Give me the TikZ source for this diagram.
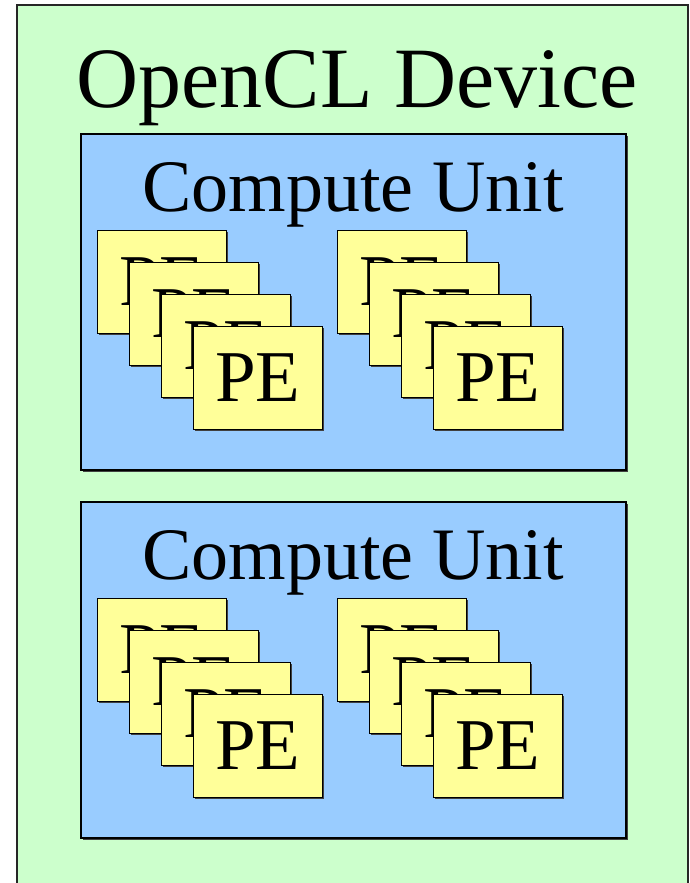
\documentclass[tikz,border=0pt]{standalone}
\usepackage{fontspec}
\setmainfont{Liberation Serif}
\definecolor{devgreen}{HTML}{CCFFCC}
\definecolor{cublue}{HTML}{99CCFF}
\definecolor{peyellow}{HTML}{FFFF99}
\begin{document}
\begin{tikzpicture}[x=1pt,y=-1pt,
  dev/.style={draw=black!85, line width=1.5pt, fill=devgreen},
  cu/.style={draw=black, line width=1.1pt, fill=cublue},
  shad/.style={fill=black!75},
  pebox/.style={draw=black, line width=1pt, fill=peyellow, minimum width=129pt, minimum height=103pt, inner sep=0pt, anchor=north west, font=\fontsize{73}{73}\selectfont},
  title/.style={anchor=base, inner sep=0pt}]
\useasboundingbox (0,0) rectangle (690,883);
\fill[white] (0,0) rectangle (690,883);
\draw[dev] (17,5) rectangle (688,900);
\node[title, font=\fontsize{86}{86}\selectfont] (devlabel) at (357,107) {OpenCL Device};
\foreach \cy/\cn in {0/a,368/b}{
  \fill[shad] (82.5,135.5+\cy) rectangle (627.5,471.5+\cy);
  \draw[cu] (81,134+\cy) rectangle (626,470+\cy);
  \node[title, font=\fontsize{74}{74}\selectfont] (cu\cn) at (353,211+\cy) {Compute Unit};
  \foreach \gx/\gn in {0/l,240/r}{
    \foreach \k in {0,1,2,3}{
      \fill[shad] (98.5+\gx+32*\k,231.5+\cy+32*\k) rectangle ++(129,103);
      \node[pebox] (pe\cn\gn\k) at (97+\gx+32*\k,230+\cy+32*\k) {PE};
    }
  }
}
\end{tikzpicture}
\end{document}
